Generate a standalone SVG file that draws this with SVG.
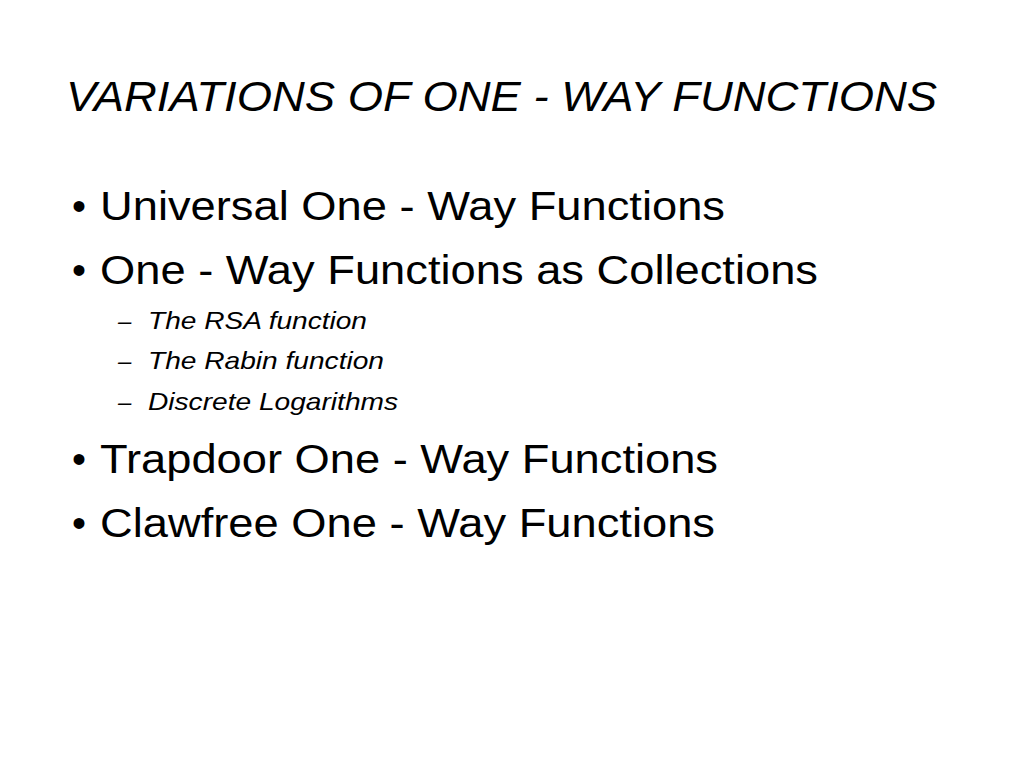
<svg xmlns="http://www.w3.org/2000/svg" width="1024" height="768" viewBox="0 0 1024 768">
<style>
text{font-family:"Liberation Sans",Arial,sans-serif;fill:#000}
.t{font-size:42px;font-style:italic}
.b{font-size:40px}
.s{font-size:24px;font-style:italic}
</style>
<rect width="1024" height="768" fill="#fff"/>
<text class="t" x="66" y="111" textLength="871" lengthAdjust="spacingAndGlyphs">VARIATIONS OF ONE - WAY FUNCTIONS</text>
<g id="bullets">
<text class="b" x="72" y="220">•</text><text class="b" x="100" y="220" textLength="625" lengthAdjust="spacingAndGlyphs">Universal One - Way Functions</text>
<text class="b" x="72" y="284">•</text><text class="b" x="100" y="284" textLength="718" lengthAdjust="spacingAndGlyphs">One - Way Functions as Collections</text>
<text class="s" x="118" y="329">–</text><text class="s" x="148" y="329" textLength="219" lengthAdjust="spacingAndGlyphs">The RSA function</text>
<text class="s" x="118" y="369">–</text><text class="s" x="148" y="369" textLength="236" lengthAdjust="spacingAndGlyphs">The Rabin function</text>
<text class="s" x="118" y="410">–</text><text class="s" x="148" y="410" textLength="250" lengthAdjust="spacingAndGlyphs">Discrete Logarithms</text>
<text class="b" x="72" y="473">•</text><text class="b" x="100" y="473" textLength="618" lengthAdjust="spacingAndGlyphs">Trapdoor One - Way Functions</text>
<text class="b" x="72" y="537">•</text><text class="b" x="100" y="537" textLength="615" lengthAdjust="spacingAndGlyphs">Clawfree One - Way Functions</text>
</g>
</svg>
